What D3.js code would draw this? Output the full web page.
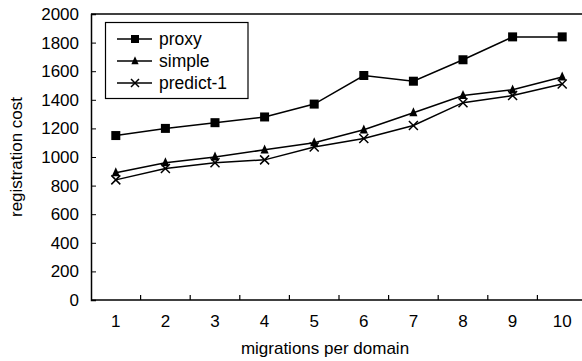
<!DOCTYPE html>
<html>
<head>
<meta charset="utf-8">
<script src="https://cdn.jsdelivr.net/npm/d3@7"></script>
<style>
body { margin: 0; background: #fff; }
text { font-family: "Liberation Sans", Arial, sans-serif; fill: #000; }
</style>
</head>
<body>
<div id="root"></div>
<script>
//DATA
const categories = [1, 2, 3, 4, 5, 6, 7, 8, 9, 10];
const proxy = [1150, 1200, 1240, 1280, 1370, 1570, 1530, 1680, 1840, 1840];
const simple = [890, 960, 1000, 1050, 1100, 1190, 1310, 1430, 1470, 1560];
const predict1 = [840, 920, 960, 980, 1070, 1130, 1220, 1380, 1430, 1510];
const yTicks = [0, 200, 400, 600, 800, 1000, 1200, 1400, 1600, 1800, 2000];
const seriesNames = ["proxy", "simple", "predict-1"];

//DIMENSIONS
let width = 582, height = 361;
let margin = {top: 14, left: 91, bottom: 61};
const FONT = '"Liberation Sans", Arial, sans-serif';

let svg = d3.select('#root')
  .append('svg')
  .attr('width', width)
  .attr('height', height);

//SCALES
let x = d3.scaleBand()
  .domain(categories)
  .range([margin.left, margin.left + 49.6 * categories.length]);

let y = d3.scaleLinear()
  .domain([0, 2000])
  .range([height - margin.bottom, margin.top]);

//FRAME
svg.append('line')
  .attr('x1', margin.left).attr('x2', width)
  .attr('y1', margin.top).attr('y2', margin.top)
  .attr('stroke', '#000').attr('stroke-width', 1.5);

//Y AXIS
let yAxis = svg.append('g')
  .attr('transform', `translate(${margin.left},0)`)
  .call(d3.axisLeft(y).tickValues(yTicks).tickFormat(d3.format('d')).tickSize(-5).tickPadding(12));
yAxis.select('.domain').attr('stroke-width', 1.5);
yAxis.selectAll('text').attr('font-size', 17).attr('font-family', FONT);

//X AXIS (labels centred, ticks between bands)
let xAxis = svg.append('g')
  .attr('transform', `translate(0,${y(0)})`)
  .call(d3.axisBottom(x).tickSize(0).tickPadding(15));
xAxis.select('.domain').attr('d', `M${margin.left},0H${width}`).attr('stroke-width', 1.5);
xAxis.selectAll('text').attr('font-size', 17).attr('font-family', FONT);

svg.append('g').selectAll('line')
  .data(categories.slice(1))
  .join('line')
  .attr('x1', d => x(d)).attr('x2', d => x(d))
  .attr('y1', y(0)).attr('y2', y(0) - 5)
  .attr('stroke', '#000').attr('stroke-width', 1.2);

//AXIS TITLES
svg.append('text')
  .attr('x', 325).attr('y', 354)
  .attr('text-anchor', 'middle')
  .attr('font-size', 17)
  .text('migrations per domain');

svg.append('text')
  .attr('transform', `translate(22,${(y(0) + y(2000)) / 2}) rotate(-90)`)
  .attr('text-anchor', 'middle')
  .attr('font-size', 17)
  .text('registration cost');

//MARKERS
function drawMarker(g, kind, cx, cy, s) {
  if (kind === 0) {
    g.append('rect').attr('x', cx - s / 2).attr('y', cy - s / 2)
      .attr('width', s).attr('height', s).attr('fill', '#000');
  } else if (kind === 1) {
    g.append('path')
      .attr('d', `M${cx},${cy - s * 0.6}L${cx + s * 0.45},${cy + s * 0.4}L${cx - s * 0.45},${cy + s * 0.4}Z`)
      .attr('fill', '#000');
  } else {
    let h = s / 2;
    g.append('path')
      .attr('d', `M${cx - h},${cy - h}L${cx + h},${cy + h}M${cx - h},${cy + h}L${cx + h},${cy - h}`)
      .attr('stroke', '#000').attr('stroke-width', 1.5).attr('fill', 'none');
  }
}

//LINES
const line = d3.line()
  .x((d, i) => x(categories[i]) + x.bandwidth() / 2)
  .y(d => y(d));

[proxy, simple, predict1].forEach((s, k) => {
  let g = svg.append('g');
  g.append('path')
    .datum(s)
    .attr('fill', 'none')
    .attr('stroke', '#000')
    .attr('stroke-width', 1.5)
    .attr('d', line);
  s.forEach((v, i) => drawMarker(g, k, x(categories[i]) + x.bandwidth() / 2, y(v), 9));
});

//LEGEND
let legend = svg.append('g');
legend.append('rect')
  .attr('x', 105.5).attr('y', 22.5)
  .attr('width', 142.5).attr('height', 76)
  .attr('fill', '#fff').attr('stroke', '#000').attr('stroke-width', 1.2);

seriesNames.forEach((name, k) => {
  let ly = 39 + k * 22;
  legend.append('line')
    .attr('x1', 117).attr('x2', 152)
    .attr('y1', ly).attr('y2', ly)
    .attr('stroke', '#000').attr('stroke-width', 1.5);
  drawMarker(legend, k, 135, ly, 8);
  legend.append('text')
    .attr('x', 159).attr('y', ly + 6)
    .attr('font-size', 17.5)
    .text(name);
});
</script>
</body>
</html>
